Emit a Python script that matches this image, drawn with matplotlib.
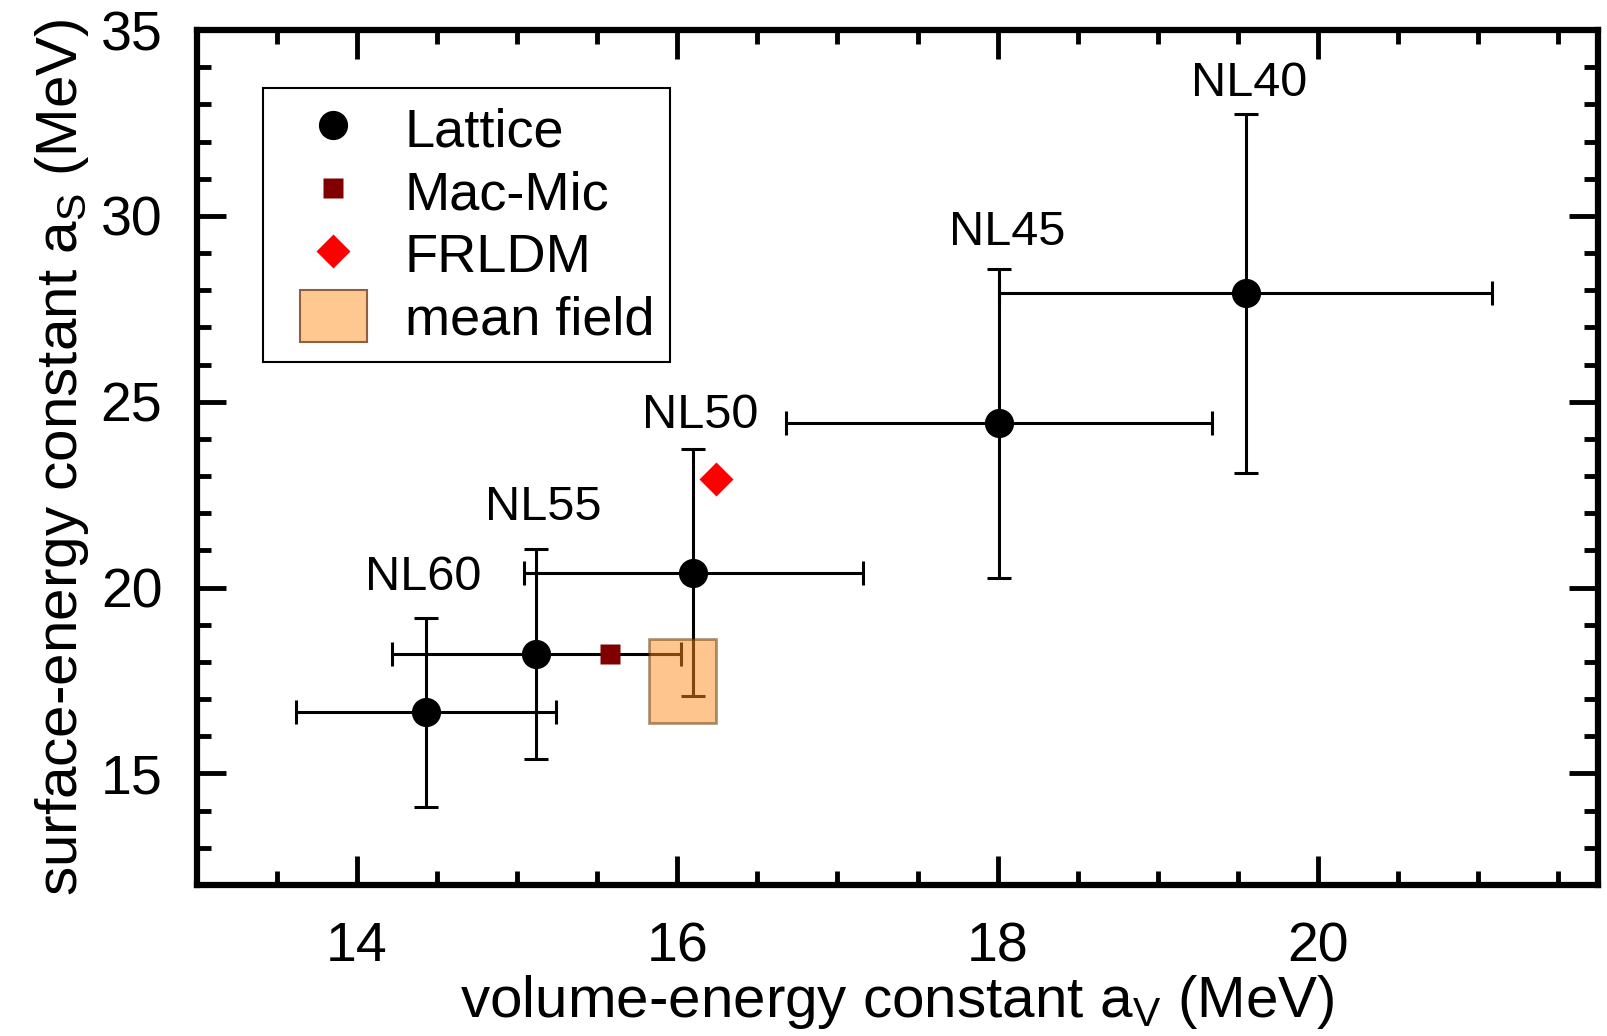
import numpy as np
import matplotlib
matplotlib.use('Agg')
from matplotlib import pyplot as plt
from matplotlib.patches import Rectangle, Patch
from matplotlib.lines import Line2D
from matplotlib.legend_handler import HandlerPatch
from matplotlib.ticker import MultipleLocator

plt.rcParams['font.family'] = ['Liberation Sans', 'DejaVu Sans']
plt.rcParams['mathtext.fontset'] = 'custom'
plt.rcParams['mathtext.rm'] = 'Liberation Sans'
plt.rcParams['mathtext.it'] = 'Liberation Sans'

# Lattice results (NL60 ... NL40)
labels = ['NL60', 'NL55', 'NL50', 'NL45', 'NL40']
a_v = [14.43, 15.12, 16.10, 18.01, 19.55]
a_v_err = [0.81, 0.90, 1.06, 1.33, 1.54]
a_s = [16.65, 18.22, 20.40, 24.42, 27.92]
a_s_err = [2.54, 2.83, 3.33, 4.16, 4.83]

# label anchor positions (data coords)
label_x = [14.41, 15.16, 16.14, 18.06, 19.57]
label_y = [20.28, 22.16, 24.62, 29.55, 33.56]

# other models
macmic = (15.58, 18.22)
frldm = (16.24, 22.93)
mf_x = (15.82, 16.24)
mf_y = (16.35, 18.63)


def small_box(legend, orig_handle, xdescent, ydescent, width, height, fontsize):
    # narrower patch centred in the handle box
    w, h = 48, 37
    return Rectangle((-xdescent + (width - w) / 2, -ydescent + (height - h) / 2), w, h)


fig = plt.figure(figsize=(16.08, 10.36), dpi=100)
ax = fig.add_axes([0.1225, 0.1458, 0.8713, 0.8252])

ax.errorbar(a_v, a_s, xerr=a_v_err, yerr=a_s_err, fmt='o', color='black',
            ms=20, elinewidth=2.2, capsize=8.5, capthick=2.2, zorder=3)
ax.plot(*macmic, 's', color='#800000', ms=15, mec='none', zorder=4)
ax.plot(*frldm, 'D', color='#ff0000', ms=17, mec='none', zorder=4)
ax.add_patch(Rectangle((mf_x[0], mf_y[0]), mf_x[1] - mf_x[0], mf_y[1] - mf_y[0],
                       facecolor='#ff8c1e', alpha=0.5, edgecolor='#5a3000',
                       linewidth=2, zorder=5))

for lab, x, y in zip(labels, label_x, label_y):
    ax.text(x, y, lab, fontsize=35, ha='center', va='center')

ax.set_xlim(13, 21.75)
ax.set_ylim(12, 35)
ax.xaxis.set_major_locator(MultipleLocator(2))
ax.xaxis.set_minor_locator(MultipleLocator(0.5))
ax.yaxis.set_major_locator(MultipleLocator(5))
ax.yaxis.set_minor_locator(MultipleLocator(1))
ax.tick_params(which='both', direction='in', top=True, right=True,
               labelsize=40, width=3.5)
ax.tick_params(which='major', length=21)
ax.tick_params(which='minor', length=10)
ax.tick_params(axis='x', which='major', pad=26)
ax.tick_params(axis='y', which='major', pad=25)
for s in ax.spines.values():
    s.set_linewidth(4.5)

ax.set_xlabel(r'volume-energy constant a$_\mathrm{V}$ (MeV)', fontsize=42, labelpad=0)
ax.set_ylabel(r'surface-energy constant a$_\mathrm{S}$ (MeV)', fontsize=42, labelpad=7)

handles = [
    Line2D([], [], ls='none', marker='o', color='black', ms=20),
    Line2D([], [], ls='none', marker='s', color='#800000', mec='none', ms=15),
    Line2D([], [], ls='none', marker='D', color='#ff0000', mec='none', ms=17),
    Patch(facecolor='#ffc890', edgecolor='#8c6040', linewidth=1.5),
]
leg = ax.legend(handles, ['Lattice', 'Mac-Mic', 'FRLDM', 'mean field'],
                loc='upper left', bbox_to_anchor=(0.047, 0.932), borderaxespad=0,
                fontsize=39, frameon=True, fancybox=False, edgecolor='black',
                framealpha=1, handlelength=2.0, handleheight=0.95,
                handletextpad=0.32, labelspacing=0.18, borderpad=0.3,
                handler_map={Patch: HandlerPatch(patch_func=small_box)})
leg.get_frame().set_linewidth(1.5)

fig.savefig('out.png', dpi=100)
